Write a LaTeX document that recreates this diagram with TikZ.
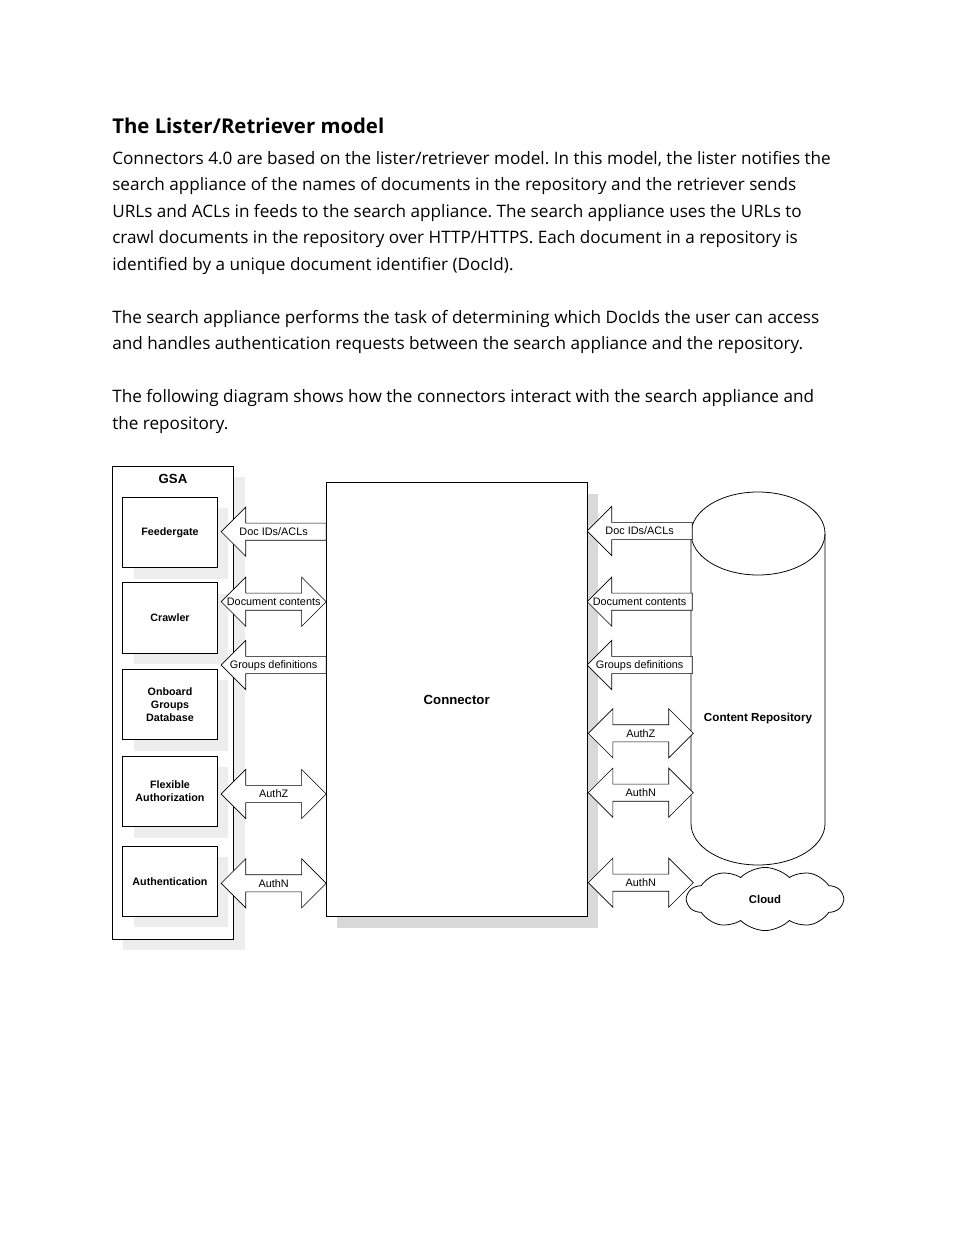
\documentclass[tikz,border=0pt]{standalone}
\usepackage{fontspec}
\setmainfont{Open Sans}
\newfontfamily\diagfont{Liberation Sans}
\usepackage{tikz}
\usetikzlibrary{shapes.arrows, shapes.symbols, shadows, calc, positioning}
\frenchspacing
\definecolor{ShadeLight}{gray}{0.93}
\definecolor{ShadeDark}{gray}{0.85}
\tikzset{
  Heading/.style = {
    anchor=base west, inner sep=0pt,
    font=\bfseries\fontsize{13.1}{16}\selectfont,
  },
  Para/.style = {
    anchor=base west, inner sep=0pt,
    font=\fontsize{11.03}{17}\selectfont,
  },
  GsaBox/.style = {
    draw, fill=white, line width=0.5pt, inner sep=0pt,
    drop shadow = {shadow xshift=7.06bp, shadow yshift=-7.06bp, fill=ShadeLight, opacity=1},
  },
  PartBox/.style = {
    GsaBox, minimum width=60.7bp, minimum height=45.2bp,
    align=center, font=\diagfont\bfseries\fontsize{6.9}{8.3}\selectfont,
  },
  ConnBox/.style = {
    draw, fill=white, line width=0.5pt, inner sep=0pt,
    minimum width=167.6bp, minimum height=278.4bp,
    drop shadow = {shadow xshift=7.06bp, shadow yshift=-7.06bp, fill=ShadeDark, opacity=1},
    font=\diagfont\bfseries\fontsize{8.5}{10}\selectfont,
  },
  TitleText/.style = {
    inner sep=0pt, font=\diagfont\bfseries\fontsize{8.5}{10}\selectfont,
  },
  CloudShape/.style = {
    cloud, cloud puffs=10, cloud puff arc=90, aspect=2.6,
    draw, fill=white, line width=0.5pt, inner sep=0pt,
    minimum width=100bp, minimum height=40.5bp,
    font=\diagfont\bfseries\fontsize{7.3}{9}\selectfont,
  },
  OneWay/.style = {
    single arrow, shape border rotate=180,
    single arrow head extend=10.26bp,
    minimum height=67.4bp, inner xsep=0pt, inner ysep=5.3bp,
    draw, fill=white, line width=0.4pt,
  },
  TwoWay/.style = {
    double arrow,
    double arrow head extend=10.26bp,
    minimum height=67.4bp, inner xsep=0pt, inner ysep=5.3bp,
    draw, fill=white, line width=0.4pt,
  },
  ArrowText/.style = {
    inner sep=0pt, text height=5bp, text depth=0pt,
    font=\diagfont\fontsize{7}{8}\selectfont,
  },
}

\begin{document}
\begin{tikzpicture}[x=0.6415bp, y=-0.6415bp]
  \useasboundingbox (0,0) rectangle (954,1235);
  \fill[white] (0,0) rectangle (954,1235);

  % page text
  \node[Heading] (title) at (112,133.3) {The Lister/Retriever model};
  \node[Para] (line1) at (112,164.3) {Connectors 4.0 are based on the lister/retriever model. In this model, the lister notifies the};
  \node[Para] (line2) at (112,190.8) {search appliance of the names of documents in the repository and the retriever sends};
  \node[Para] (line3) at (112,217.3) {URLs and ACLs in feeds to the search appliance. The search appliance uses the URLs to};
  \node[Para] (line4) at (112,243.8) {crawl documents in the repository over HTTP/HTTPS. Each document in a repository is};
  \node[Para] (line5) at (112,270.3) {identified by a unique document identifier (DocId).};
  \node[Para] (line6) at (112,323.3) {The search appliance performs the task of determining which DocIds the user can access};
  \node[Para] (line7) at (112,349.8) {and handles authentication requests between the search appliance and the repository.};
  \node[Para] (line8) at (112,402.8) {The following diagram shows how the connectors interact with the search appliance and};
  \node[Para] (line9) at (112,429.3) {the repository.};

  % GSA side
  \node[GsaBox, minimum width=78.1bp, minimum height=303.4bp] (gsa) at (172.85,702.5) {};
  \node[TitleText] (gsaTitle) at (173,479) {GSA};
  \node[PartBox] (feed) at (170,532.5) {Feedergate};
  \node[PartBox] (crawl) at (170,618) {Crawler};
  \node[PartBox] (groups) at (170,704.5) {Onboard\\Groups\\Database};
  \node[PartBox] (flex) at (170,791.3) {Flexible\\Authorization};
  \node[PartBox] (authn) at (170,881.2) {Authentication};

  % connector
  \node[ConnBox] (conn) at (456.65,699.7) {Connector};

  % repository and cloud
  \fill[white] (691,533.5) -- (691,823.5)
    arc[start angle=180, end angle=0, x radius=67, y radius=41.5] -- (825,533.5) -- cycle;
  \draw[line width=0.5pt] (691,533.5) -- (691,823.5)
    arc[start angle=180, end angle=0, x radius=67, y radius=41.5] -- (825,533.5);
  \draw[line width=0.5pt] (758,533.5) ellipse [x radius=67, y radius=41.5];
  \node[TitleText, font=\diagfont\bfseries\fontsize{7.5}{9}\selectfont] (repo) at (758,718) {Content Repository};
  \node[CloudShape] (cloud) at (765,899) {Cloud};

  % arrows between GSA and connector
  \node[OneWay, anchor=tip] (lDoc) at (220.7,531.7) {};
  \node[ArrowText] (lDocText) at ($(lDoc.tip)!.5!(lDoc.tail)$) {Doc IDs/ACLs};
  \node[TwoWay] (lCont) at (273.7,601.7) {};
  \node[ArrowText] (lContText) at (lCont.center) {Document contents};
  \node[OneWay, anchor=tip] (lGrp) at (220.7,665) {};
  \node[ArrowText] (lGrpText) at ($(lGrp.tip)!.5!(lGrp.tail)$) {Groups definitions};
  \node[TwoWay] (lAuthz) at (273.7,794) {};
  \node[ArrowText] (lAuthzText) at (lAuthz.center) {AuthZ};
  \node[TwoWay] (lAuthn) at (273.7,883.3) {};
  \node[ArrowText] (lAuthnText) at (lAuthn.center) {AuthN};

  % arrows between connector and repository
  \node[OneWay, anchor=tip] (rDoc) at (586.7,531) {};
  \node[ArrowText] (rDocText) at ($(rDoc.tip)!.5!(rDoc.tail)$) {Doc IDs/ACLs};
  \node[OneWay, anchor=tip] (rCont) at (586.7,601.7) {};
  \node[ArrowText] (rContText) at ($(rCont.tip)!.5!(rCont.tail)$) {Document contents};
  \node[OneWay, anchor=tip] (rGrp) at (586.7,665) {};
  \node[ArrowText] (rGrpText) at ($(rGrp.tip)!.5!(rGrp.tail)$) {Groups definitions};
  \node[TwoWay] (rAuthz) at (640.8,733.3) {};
  \node[ArrowText] (rAuthzText) at (rAuthz.center) {AuthZ};
  \node[TwoWay] (rAuthn) at (640.8,792.7) {};
  \node[ArrowText] (rAuthnText) at (rAuthn.center) {AuthN};
  \node[TwoWay] (cAuthn) at (640.8,882.7) {};
  \node[ArrowText] (cAuthnText) at (cAuthn.center) {AuthN};
\end{tikzpicture}
\end{document}
